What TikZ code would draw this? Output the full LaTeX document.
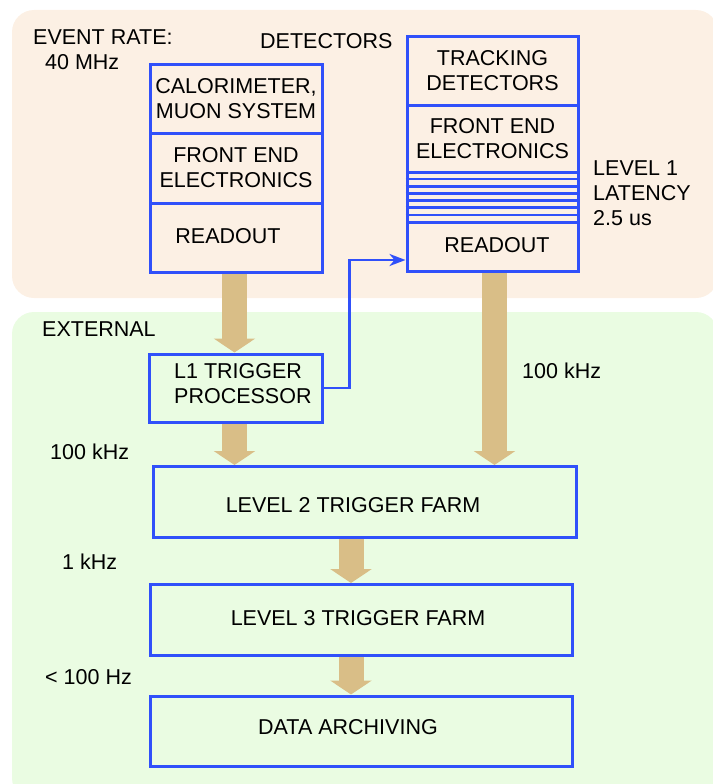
\documentclass[tikz,border=0pt]{standalone}
\usepackage{fontspec}
\setmainfont{Liberation Sans}
\usetikzlibrary{arrows.meta,backgrounds}
\definecolor{peach}{RGB}{252,240,228}
\definecolor{mint}{RGB}{234,252,226}
\definecolor{boxblue}{RGB}{48,80,250}
\definecolor{tanC}{RGB}{217,190,135}
\tikzset{
  every node/.style={font=\fontsize{21.5}{25}\selectfont},
  cell/.style={draw=boxblue, line width=3pt, inner sep=0pt, align=center},
  txt/.style={inner sep=0pt, align=left},
  fatarrow/.style={draw=tanC, line width=25pt, -{Triangle[length=14pt,width=41pt]}},
  conn/.style={draw=boxblue, line width=2.8pt, -{Stealth[length=16pt,width=12pt,inset=5pt]}},
}
\begin{document}
\begin{tikzpicture}[x=1pt,y=-1pt]
\useasboundingbox (0,0) rectangle (712,784);
\clip (0,0) rectangle (712,784);

% coordinates for arrows
\coordinate (bend) at (349.5,260);
\coordinate (mid) at (351,0);

% boxes
\node[cell, minimum width=172pt, minimum height=68pt] (cal1) at (236,99) {CALORIMETER,\\MUON SYSTEM};
\node[cell, minimum width=172pt, minimum height=70pt] (cal2) at (236,168) {FRONT END\\ELECTRONICS};
\node[cell, minimum width=172pt, minimum height=69pt] (cal3) at (236,237.5) {};
\node[txt] (cal3t) at (228,236) {READOUT};

\node[cell, minimum width=171pt, minimum height=68pt] (trk1) at (492.5,71) {TRACKING\\DETECTORS};
\node[cell, minimum width=171pt, minimum height=67pt] (trk2) at (492.5,138.5) {FRONT END\\ELECTRONICS};
\node[cell, minimum width=171pt, minimum height=50pt] (buf) at (492.5,197) {};
\node[cell, minimum width=171pt, minimum height=49pt] (trk3) at (492.5,246.5) {};
\node[txt] (trk3t) at (497,245) {READOUT};
\foreach \k in {1,...,6} {
  \draw[boxblue, line width=2.5pt] (buf.west |- 0,{172+\k*50/7}) -- (buf.east |- 0,{172+\k*50/7});
}

\node[cell, minimum width=173pt, minimum height=68pt] (l1) at (235.5,388) {};
\node[txt, anchor=west] (l1t) at (174,384) {L1 TRIGGER\\PROCESSOR};

\node[cell, minimum width=422.5pt, minimum height=71pt] (l2) at (364.75,502) {};
\node[txt] (l2t) at (353,505) {LEVEL 2 TRIGGER FARM};
\node[cell, minimum width=421.5pt, minimum height=71pt] (l3) at (361.25,620) {};
\node[txt] (l3t) at (358,618) {LEVEL 3 TRIGGER FARM};
\node[cell, minimum width=421.5pt, minimum height=70pt] (arch) at (361.25,731) {};
\node[txt] (archt) at (348,727) {DATA ARCHIVING};

% backgrounds and fat arrows underneath the boxes
\begin{scope}[on background layer]
\fill[peach, rounded corners=22pt] (12,10) rectangle (718,298);
\fill[mint, rounded corners=22pt] (12,312) rectangle (718,800);
\draw[fatarrow] ([xshift=-1.5pt]cal3.south) -- ([xshift=-1.5pt]cal3.south |- l1.north);
\draw[fatarrow] ([xshift=-1pt]l1.south) -- ([xshift=-1pt]l1.south |- l2.north);
\draw[fatarrow] ([xshift=2pt]trk3.south) -- ([xshift=2pt]trk3.south |- l2.north);
\draw[fatarrow] (mid |- l2.south) -- (mid |- l3.north);
\draw[fatarrow] (mid |- l3.south) -- (mid |- arch.north);
\end{scope}

% blue connector
\draw[conn] (l1.east) -| (bend) -- (bend -| trk3.west);

% labels
\node[txt, anchor=west] (rate) at (33,50) {EVENT RATE:\\\hspace*{12pt}40 MHz};
\node[txt, anchor=west] (det) at (260,41) {DETECTORS};
\node[txt, anchor=west] (ext) at (42,329) {EXTERNAL};
\node[txt, anchor=west] (lat) at (593,193.5) {LEVEL 1\\LATENCY\\2.5 us};
\node[txt, anchor=west] (r1) at (522,371) {100 kHz};
\node[txt, anchor=west] (r2) at (50,452) {100 kHz};
\node[txt, anchor=west] (r3) at (62,562) {1 kHz};
\node[txt, anchor=west] (r4) at (45,677) {< 100 Hz};
\end{tikzpicture}
\end{document}
